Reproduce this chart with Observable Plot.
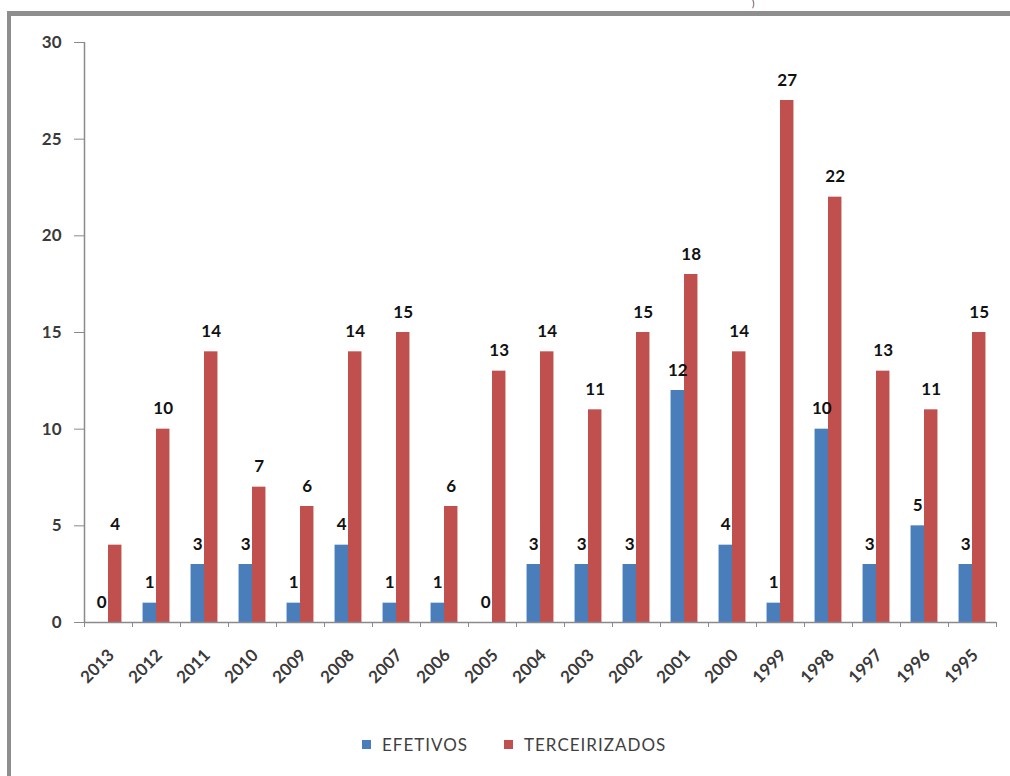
<!DOCTYPE html>
<html>
<head>
<meta charset="utf-8">
<script src="https://cdn.jsdelivr.net/npm/d3@7"></script>
<script src="https://cdn.jsdelivr.net/npm/@observablehq/plot@0.6"></script>
<style>
  html, body { margin: 0; padding: 0; background: #fff; width: 1010px; height: 776px; overflow: hidden; }
  #frame { position: absolute; left: 7px; top: 11px; width: 1100px; height: 900px;
           border-left: 4px solid #8e8e8e; border-top: 5px solid #8e8e8e; box-sizing: border-box; }
  #chart { position: absolute; left: 0; top: 0; }
  #legend { position: absolute; top: 734px; left: 0; width: 1010px; font-family: Lato, "Open Sans", sans-serif;
            font-size: 17px; color: #404040; letter-spacing: 1px; }
  .item { position: absolute; display: flex; align-items: center; white-space: nowrap; }
  .sw { width: 9px; height: 9px; margin-right: 11px; }
  #stray { position: absolute; left: 752px; top: -1px; font-family: Lato, sans-serif; font-size: 9px; line-height: 9px; color: #333; }
</style>
</head>
<body>
<div id="stray">)</div>
<div id="frame"></div>
<div id="chart"></div>
<div id="legend"></div>
<script>
const years = ["2013","2012","2011","2010","2009","2008","2007","2006","2005","2004","2003","2002","2001","2000","1999","1998","1997","1996","1995"];
const efetivos = [0,1,3,3,1,4,1,1,0,3,3,3,12,4,1,10,3,5,3];
const terceirizados = [4,10,14,7,6,14,15,6,13,14,11,15,18,14,27,22,13,11,15];
const yTicks = [0,5,10,15,20,25,30];
const seriesNames = ["EFETIVOS","TERCEIRIZADOS"];
const colors = ["#4a7ebb","#c0504d"];

const rows = [];
years.forEach((y, i) => {
  rows.push({year: y, series: seriesNames[0], value: efetivos[i]});
  rows.push({year: y, series: seriesNames[1], value: terceirizados[i]});
});
const eRows = rows.filter(d => d.series === seriesNames[0]);
const tRows = rows.filter(d => d.series === seriesNames[1]);

const W = 1010, H = 716;
const mL = 84, mR = 14, mT = 42, mB = 94;
const bw = (W - mL - mR) / years.length;
const barW = bw * 0.28;
const outer = (bw - 2 * barW) / 2;
const axisColor = "#8a8a8a";
const font = "Lato, 'Open Sans', sans-serif";

const chart = Plot.plot({
  width: W, height: H,
  marginLeft: mL, marginRight: mR, marginTop: mT, marginBottom: mB,
  style: {fontFamily: font, background: "transparent", overflow: "visible"},
  x: {domain: years, padding: 0, label: null},
  y: {domain: [0, 30], label: null},
  marks: [
    Plot.barY(eRows, {x: "year", y: "value", fill: colors[0], insetLeft: outer, insetRight: bw - outer - barW}),
    Plot.barY(tRows, {x: "year", y: "value", fill: colors[1], insetLeft: outer + barW, insetRight: outer}),
    Plot.text(eRows, {x: "year", y: "value", text: d => String(d.value), dx: -barW / 2, dy: -15, lineAnchor: "bottom",
      fontSize: 17, fontWeight: "bold", fill: "#111"}),
    Plot.text(tRows, {x: "year", y: "value", text: d => String(d.value), dx: barW / 2, dy: -15, lineAnchor: "bottom",
      fontSize: 17, fontWeight: "bold", fill: "#111"}),
    Plot.ruleY([0], {stroke: axisColor, strokeWidth: 1.5}),
    Plot.ruleX([years[0]], {y1: 0, y2: 30, dx: -bw / 2, stroke: axisColor, strokeWidth: 1.5}),
    Plot.axisY(yTicks, {tickSize: 10, tickPadding: 13, fontSize: 17, fontWeight: "bold", stroke: axisColor, fill: "#3a3a3a"}),
    Plot.axisX(years, {tickSize: 5, tickFormat: () => "", dx: -bw / 2, stroke: axisColor}),
    Plot.axisX([years[years.length - 1]], {tickSize: 5, tickFormat: () => "", dx: bw / 2, stroke: axisColor}),
    Plot.axisX(years, {tickSize: 0, tickPadding: 30, tickRotate: -45, fontSize: 17, fontWeight: "bold", fill: "#3a3a3a", dx: 3})
  ]
});
document.getElementById("chart").appendChild(chart);

const legend = document.getElementById("legend");
const lefts = [362, 504];
seriesNames.forEach((name, i) => {
  const item = document.createElement("div");
  item.className = "item";
  item.style.left = lefts[i] + "px";
  const sw = document.createElement("div");
  sw.className = "sw";
  sw.style.background = colors[i];
  const label = document.createElement("span");
  label.textContent = name;
  item.appendChild(sw);
  item.appendChild(label);
  legend.appendChild(item);
});
</script>
</body>
</html>
